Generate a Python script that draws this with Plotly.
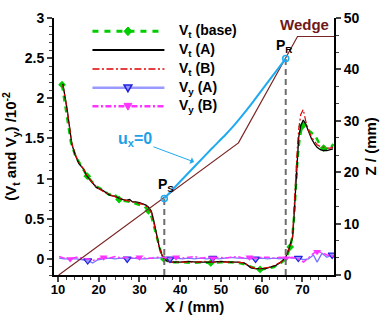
import plotly.graph_objects as go

# ---------------- data ----------------
# V_t (A) black
xa = [11.2,12.2,13.4,14.2,15.1,16.3,17.0,18.0,19.4,21.1,22.8,24.0,25.2,26.7,27.6,28.3,29.1,30.0,30.8,31.6,
      32.3,33.0,33.5,34.0,34.5,34.9,35.6,36.3,37.0,38.0,40.0,42.0,44.0,46.0,48.0,50.0,52.0,54.0,55.7,56.6,
      57.4,58.5,59.9,61.0,62.3,63.5,64.7,65.4,65.9,66.6,67.1,67.6,67.9,68.2,68.5,68.8,69.1,69.6,70.2,70.8,
      71.5,72.2,73.0,73.6,74.4,75.1,76.0,76.8,77.5]
vt_a = [2.18,1.88,1.43,1.30,1.19,1.12,1.04,0.98,0.89,0.85,0.79,0.78,0.75,0.73,0.74,0.71,0.71,0.70,0.68,0.67,
        0.64,0.58,0.48,0.34,0.22,0.14,0.04,-0.01,-0.03,-0.04,-0.04,-0.03,-0.04,-0.04,-0.04,-0.03,-0.04,-0.04,-0.05,-0.08,
        -0.11,-0.12,-0.12,-0.12,-0.10,-0.08,-0.04,-0.01,0.02,0.11,0.18,0.27,0.50,0.80,1.10,1.35,1.52,1.66,1.73,1.68,
        1.58,1.50,1.43,1.39,1.36,1.35,1.35,1.36,1.37]
# V_t (B) red
vt_b = [2.17,1.87,1.44,1.31,1.20,1.12,1.05,0.98,0.90,0.84,0.80,0.77,0.75,0.73,0.72,0.71,0.70,0.69,0.68,0.66,
        0.63,0.57,0.47,0.34,0.22,0.13,0.04,-0.01,-0.03,-0.04,-0.04,-0.04,-0.04,-0.03,-0.04,-0.04,-0.04,-0.04,-0.05,-0.08,
        -0.10,-0.12,-0.12,-0.11,-0.10,-0.07,-0.04,-0.01,0.03,0.12,0.19,0.29,0.53,0.84,1.15,1.42,1.62,1.80,1.86,1.72,
        1.60,1.52,1.46,1.42,1.40,1.39,1.38,1.38,1.39]
# V_t (base) green
xbase = [11.0,12.0,13.2,14.3,15.2,16.3,17.2,18.2,19.5,21.0,22.5,23.6,25.0,26.5,27.8,29.0,30.2,31.3,32.2,33.0,
         33.6,34.2,34.8,35.4,36.0,37.0,38.5,40.5,43.0,45.5,47.5,50.0,52.5,54.5,56.0,57.5,59.6,61.5,63.0,64.5,
         65.5,66.3,67.0,67.5,68.0,68.4,68.8,69.3,69.9,70.5,71.2,72.0,73.2,74.2,75.2,76.2,77.0,77.6]
vt_base = [2.17,1.86,1.45,1.28,1.20,1.10,1.03,0.97,0.90,0.86,0.80,0.82,0.74,0.72,0.71,0.69,0.67,0.65,0.60,0.52,
           0.40,0.28,0.16,0.06,0.00,-0.03,-0.04,-0.04,-0.05,-0.04,-0.05,-0.04,-0.04,-0.05,-0.07,-0.10,-0.13,-0.12,-0.10,-0.06,
           -0.02,0.05,0.15,0.27,0.55,0.90,1.25,1.50,1.65,1.70,1.62,1.58,1.53,1.43,1.38,1.36,1.39,1.43]
# V_y (A) blue
xy = [10.3,11.5,13.0,14.5,16.0,17.3,18.5,19.8,21.2,22.6,24.0,25.5,27.0,28.5,30.0,31.5,33.0,34.5,36.0,37.5,
      39.0,40.5,42.0,43.5,45.0,46.5,48.0,49.5,51.0,52.5,54.0,55.5,57.0,58.5,60.0,61.5,63.0,64.5,66.0,67.5,
      69.0,70.3,71.5,72.7,73.6,74.8,76.0,77.3,77.8]
vy_a = [0.01,0.00,0.00,0.00,-0.01,-0.02,-0.05,-0.01,0.00,0.01,0.00,0.01,0.00,0.01,0.00,0.00,0.01,0.01,0.02,0.00,
        0.01,0.00,0.01,0.00,0.01,0.00,0.01,0.00,0.01,0.02,0.01,0.01,0.00,0.00,0.01,0.00,0.01,0.00,0.02,0.01,
        0.01,-0.01,0.00,0.05,-0.04,0.07,0.02,0.05,0.04]
# V_y (B) magenta
vy_b = [0.03,0.01,0.00,0.02,0.01,0.00,-0.02,0.00,0.02,0.01,0.03,0.01,0.02,0.01,0.02,0.01,0.01,0.02,0.02,0.01,
        0.02,0.01,0.02,0.03,0.01,0.02,0.01,0.02,0.01,0.02,0.03,0.01,0.02,0.01,0.02,0.02,0.01,0.02,0.01,0.02,
        0.00,-0.04,0.01,0.07,0.09,0.08,0.05,0.03,0.03]
# wedge surface (Z, mm)
x_wedge = [10.2, 54.3, 68.8, 77.8]
z_wedge = [0.0, 25.7, 46.4, 46.4]
# u_x = 0 line (Z, mm)
x_ux0 = [36.1, 40.0, 44.0, 48.0, 51.0, 53.0, 55.0, 57.4, 61.0, 65.9]
z_ux0 = [14.9, 18.2, 21.5, 24.8, 27.2, 28.9, 30.8, 33.2, 37.0, 42.1]
# separation / reattachment points
x_ps, z_ps = 36.1, 14.9
x_pr, z_pr = 65.9, 42.1

# ---------------- figure ----------------
W, H = 382, 315
L, R, T, B = 50, 48, 10, 40
PW, PH = W - L - R, H - T - B
FONT = "Liberation Sans"

def paper(px, py):
    return (px - L) / PW, (H - B - py) / PH

fig = go.Figure()

GREEN, RED, BLUE, MAG = "#00CC00", "#DD0000", "#7777FF", "#FF33FF"

fig.add_trace(go.Scatter(x=xbase, y=vt_base, mode="lines+markers", name="Vt (base)",
                         line=dict(color=GREEN, width=2.5, dash="6px,5px"),
                         marker=dict(symbol="diamond", size=6, color=GREEN, maxdisplayed=10)))
fig.add_trace(go.Scatter(x=xa, y=vt_a, mode="lines", name="Vt (A)",
                         line=dict(color="black", width=1.3)))
fig.add_trace(go.Scatter(x=xa, y=vt_b, mode="lines", name="Vt (B)",
                         line=dict(color=RED, width=1.2, dash="7px,2.5px,2px,2.5px")))
fig.add_trace(go.Scatter(x=xy, y=vy_a, mode="lines+markers", name="Vy (A)",
                         line=dict(color=BLUE, width=1.3),
                         marker=dict(symbol="triangle-down", size=7, color="#9999FF",
                                     line=dict(color="#2222DD", width=1.2), maxdisplayed=7)))
fig.add_trace(go.Scatter(x=xy, y=vy_b, mode="lines+markers", name="Vy (B)",
                         line=dict(color=MAG, width=1.5, dash="6px,2.5px,2px,2.5px"),
                         marker=dict(symbol="triangle-down", size=7, color=MAG, maxdisplayed=8)))

# right axis traces
fig.add_trace(go.Scatter(x=x_wedge, y=z_wedge, yaxis="y2", mode="lines",
                         line=dict(color="#7A2424", width=1.2)))
fig.add_trace(go.Scatter(x=[x_ps, x_ps], y=[0, z_ps], yaxis="y2", mode="lines",
                         line=dict(color="#6E6E6E", width=2, dash="6px,4px")))
fig.add_trace(go.Scatter(x=[x_pr, x_pr], y=[0, z_pr], yaxis="y2", mode="lines",
                         line=dict(color="#6E6E6E", width=2, dash="6px,4px")))
fig.add_trace(go.Scatter(x=x_ux0, y=z_ux0, yaxis="y2", mode="lines",
                         line=dict(color="#1EAAF0", width=2, shape="spline", smoothing=0.6)))
fig.add_trace(go.Scatter(x=[x_ps, x_pr], y=[z_ps, z_pr], yaxis="y2", mode="markers",
                         marker=dict(symbol="circle-open", size=6, color="#1EAAF0", line=dict(width=1.5))))

# ---- manual legend ----
leg_rows = [23.7, 43.0, 62.7, 82.0, 101.0]
leg_names = ["V<sub>t</sub> (base)", "V<sub>t</sub> (A)", "V<sub>t</sub> (B)",
             "V<sub>y</sub> (A)", "V<sub>y</sub> (B)"]
leg_styles = [dict(color=GREEN, width=3, dash="6px,6px"),
              dict(color="black", width=2),
              dict(color=RED, width=1.5, dash="7px,2.5px,2px,2.5px"),
              dict(color="#9999FF", width=2.5),
              dict(color=MAG, width=2.3, dash="6px,2.5px,2px,2.5px")]
shapes = []
annotations = []
for py, nm, st in zip(leg_rows, leg_names, leg_styles):
    x0, y0 = paper(89, py)
    x1, _ = paper(162, py)
    shapes.append(dict(type="line", xref="paper", yref="paper", x0=x0, x1=x1, y0=y0, y1=y0, line=st))
    tx, ty = paper(175, py)
    annotations.append(dict(xref="paper", yref="paper", x=tx, y=ty, xanchor="left", yanchor="middle",
                            text=nm, showarrow=False,
                            font=dict(family=FONT, size=14, color="black", weight="bold")))

def path_poly(pts):
    s = ""
    for i, (px, py) in enumerate(pts):
        xx, yy = paper(px, py)
        s += ("M" if i == 0 else "L") + f"{xx:.5f},{yy:.5f} "
    return s + "Z"

cx = 125
cy = leg_rows[0]
shapes.append(dict(type="path", xref="paper", yref="paper",
                   path=path_poly([(cx, cy - 4.5), (cx + 4, cy), (cx, cy + 4.5), (cx - 4, cy)]),
                   fillcolor=GREEN, line=dict(color=GREEN, width=1)))
cy = leg_rows[3]
shapes.append(dict(type="path", xref="paper", yref="paper",
                   path=path_poly([(cx - 4, cy - 3), (cx + 4, cy - 3), (cx, cy + 4)]),
                   fillcolor="#9999FF", line=dict(color="#2222DD", width=1.5)))
cy = leg_rows[4]
shapes.append(dict(type="path", xref="paper", yref="paper",
                   path=path_poly([(cx - 4, cy - 3), (cx + 4, cy - 3), (cx, cy + 4)]),
                   fillcolor=MAG, line=dict(color=MAG, width=1)))

# ---- labels ----
annotations.append(dict(x=43.4, y=22.0, xref="x", yref="y2", ax=-59, ay=-22,
                        text="u<sub>x</sub>=0", showarrow=True, arrowhead=1, arrowsize=1.2,
                        arrowwidth=1, arrowcolor="#1EAAF0",
                        font=dict(family=FONT, size=16, color="#1EA0E6", weight="bold")))
annotations.append(dict(x=36.4, y=17.6, xref="x", yref="y2", text="P<sub>S</sub>", showarrow=False,
                        font=dict(family=FONT, size=14, color="black", weight="bold")))
annotations.append(dict(x=65.4, y=44.5, xref="x", yref="y2", text="P<sub>R</sub>", showarrow=False,
                        font=dict(family=FONT, size=14, color="black", weight="bold")))
annotations.append(dict(x=70.5, y=48.7, xref="x", yref="y2", text="Wedge", showarrow=False,
                        font=dict(family=FONT, size=15, color="#701818", weight="bold")))

titlefont = dict(family=FONT, size=15, color="black", weight="bold")
# axis titles as annotations (placed in pixels)
tx, ty = paper(193, 307)
annotations.append(dict(xref="paper", yref="paper", x=tx, y=ty, xanchor="center", yanchor="middle",
                        text="X / (mm)", showarrow=False, font=titlefont))
tx, ty = paper(371, 142)
annotations.append(dict(xref="paper", yref="paper", x=tx, y=ty, xanchor="center", yanchor="middle",
                        text="Z / (mm)", showarrow=False, textangle=-90, font=titlefont))

tickfont = dict(family=FONT, size=14, color="black", weight="bold")
xtickfont = dict(family=FONT, size=13, color="black", weight="bold")

fig.update_layout(
    width=W, height=H, margin=dict(l=L, r=R, t=T, b=B),
    paper_bgcolor="white", plot_bgcolor="white", showlegend=False,
    shapes=shapes, annotations=annotations,
    xaxis=dict(range=[9.03, 77.75], dtick=10, tick0=0, ticks="outside", ticklen=5, tickwidth=1.5,
               ticklabelstandoff=-4,
               showline=True, linecolor="black", linewidth=2, showgrid=False, zeroline=False,
               tickfont=xtickfont, minor=dict(dtick=2, ticks="outside", ticklen=3, tickwidth=1, showgrid=False)),
    yaxis=dict(range=[-0.2, 3], dtick=0.5, tick0=0, ticks="outside", ticklen=5, tickwidth=1.5,
               showline=True, linecolor="black", linewidth=2, showgrid=False, zeroline=False,
               tickfont=tickfont, minor=dict(dtick=0.1, ticks="outside", ticklen=3, tickwidth=1, showgrid=False),
               title=dict(text="(V<sub>t</sub> and V<sub>y</sub>) /10<sup>-2</sup>", font=titlefont, standoff=4)),
    yaxis2=dict(range=[0, 50], dtick=10, tick0=0, overlaying="y", side="right", anchor="x",
                ticks="outside", ticklen=5, tickwidth=1.5,
                showline=True, linecolor="black", linewidth=2, showgrid=False, zeroline=False,
                tickfont=tickfont, minor=dict(dtick=10/3, ticks="outside", ticklen=3, tickwidth=1, showgrid=False)),
)

fig.write_html("out.html", config={"displayModeBar": False},
               post_script="document.body.style.margin='0';document.body.style.padding='0';"
                           "document.documentElement.style.overflow='hidden';")
